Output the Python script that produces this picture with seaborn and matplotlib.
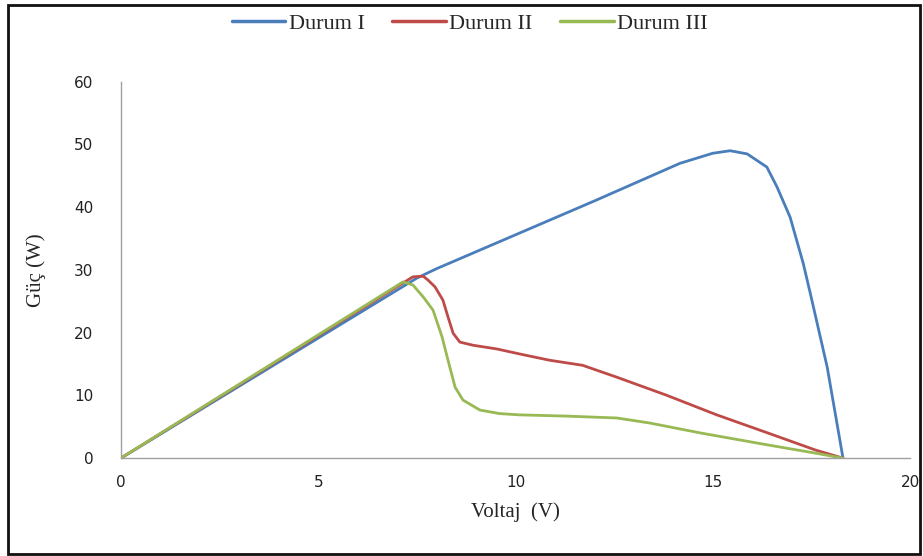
import numpy as np
import pandas as pd
import matplotlib.pyplot as plt
import matplotlib.patches as patches
import seaborn as sns

# Data (Voltage V, Power W)
v1 = [0, 7.5, 8.0, 10.0, 12.0, 14.17, 15.0, 15.44, 15.87, 16.37, 16.63, 16.96, 17.29, 17.47, 17.9, 18.3]
p1 = [0, 28.7, 30.2, 35.6, 41.0, 47.0, 48.6, 49.0, 48.5, 46.4, 43.2, 38.4, 31.1, 26.3, 14.5, 0]

v2 = [0, 7.40, 7.66, 7.78, 7.96, 8.16, 8.29, 8.42, 8.59, 8.92, 9.53, 10.11, 10.87, 11.7,
      12.57, 13.84, 15.1, 16.4, 17.6, 18.3]
p2 = [0, 28.9, 29.0, 28.4, 27.3, 25.2, 22.5, 19.9, 18.5, 18.0, 17.4, 16.6, 15.6, 14.8,
      12.9, 10.0, 6.9, 4.0, 1.3, 0]

v3 = [0, 7.15, 7.40, 7.66, 7.91, 8.14, 8.29, 8.47, 8.67, 9.1, 9.6, 10.1, 11.3, 12.57,
      13.4, 14.7, 16.4, 17.6, 18.3]
p3 = [0, 28.1, 27.6, 25.7, 23.6, 19.3, 15.6, 11.3, 9.25, 7.66, 7.1, 6.9, 6.7, 6.4,
      5.6, 4.0, 2.1, 0.8, 0]

labels = ["Durum I", "Durum II", "Durum III"]
colors = ["#4A7EBB", "#BE4B48", "#98B954"]

sns.set_style("white")
plt.rcParams["font.family"] = ["DejaVu Sans"]

fig = plt.figure(figsize=(9.23, 5.56), dpi=100)
ax = fig.add_axes([0.131, 0.176, 0.855, 0.677])

for v, p, lab, col in zip([v1, v2, v3], [p1, p2, p3], labels, colors):
    df = pd.DataFrame({"V": v, "P": p})
    sns.lineplot(data=df, x="V", y="P", ax=ax, sort=False, color=col,
                 linewidth=2.0, label=lab, estimator=None,
                 solid_joinstyle="round", solid_capstyle="round")

ax.set_xlim(0, 20)
ax.set_ylim(0, 60)
ax.set_xticks([0, 5, 10, 15, 20])
ax.set_yticks([0, 10, 20, 30, 40, 50, 60])
ax.tick_params(axis="both", length=0, labelsize=11, colors="#222222")
ax.tick_params(axis="y", pad=20)
ax.tick_params(axis="x", pad=12)

for s in ["top", "right"]:
    ax.spines[s].set_visible(False)
for s in ["left", "bottom"]:
    ax.spines[s].set_color("#A0A0A0")
    ax.spines[s].set_linewidth(1.0)

serif = ["Liberation Serif", "DejaVu Serif"]
ax.set_xlabel("Voltaj  (V)", family=serif, fontsize=15, labelpad=9)
ax.set_ylabel("Güç (W)", family=serif, fontsize=15, labelpad=20)

leg = ax.legend(loc="center", bbox_to_anchor=(0.509, 0.958), bbox_transform=fig.transFigure,
                ncol=3, frameon=False, prop={"family": serif, "size": 16},
                handlelength=2.4, handletextpad=0.15, columnspacing=1.25)
for line in leg.get_lines():
    line.set_linewidth(2.5)

# outer frame around the figure
fig.patches.append(patches.Rectangle((0.009, 0.004), 0.988, 0.987, transform=fig.transFigure,
                                     fill=False, edgecolor="#111111", linewidth=2))

fig.savefig("out.png", dpi=100)
